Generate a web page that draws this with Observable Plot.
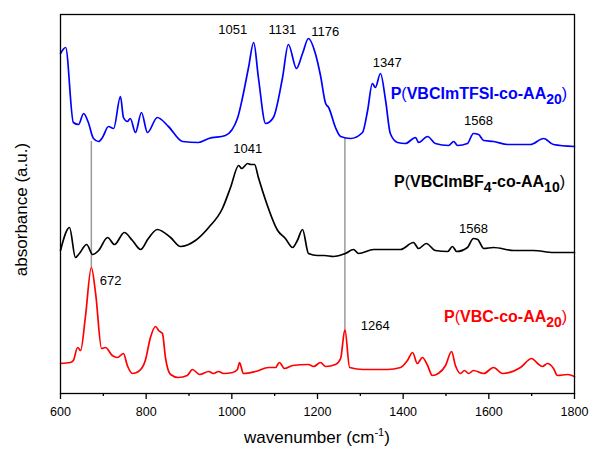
<!DOCTYPE html>
<html>
<head>
<meta charset="utf-8">
<script src="https://cdn.jsdelivr.net/npm/d3@7"></script>
<script src="https://cdn.jsdelivr.net/npm/@observablehq/plot@0.6"></script>
<style>
  body { margin: 0; background: #fff; }
  svg { font-family: "Liberation Sans", Arial, sans-serif; }
</style>
</head>
<body>
<div id="chart"></div>
<script>
// Spectra: [wavenumber (cm-1), absorbance (a.u., offset)]
const tfsi = [
  [600,340],[612,346],[630,271],[642,269],[654,280],[665,271],[677,255],[689,252],[698,256],
  [712,267],[724,265],[740,297],[747,276],[756,272],[763,275],[775,261],[789,281],[803,261],
  [826,276],[852,267],[885,252],[922,251],[946,255],[985,258],[1013,275],[1025,296],[1039,326],
  [1051,351],[1062,316],[1079,270],[1097,276],[1118,315],[1132,349],[1151,325],[1165,340],
  [1179,355],[1195,340],[1207,318],[1219,290],[1226,286],[1242,266],[1254,257],[1277,255],
  [1305,261],[1317,283],[1328,310],[1335,306],[1347,320],[1359,293],[1370,260],[1387,251],
  [1405,250],[1429,256],[1436,251],[1457,257],[1475,250],[1506,248],[1518,252],[1527,248],
  [1550,250],[1564,260],[1576,259],[1588,253],[1611,252],[1644,249],[1697,249],[1728,255],
  [1751,249],[1800,247]
];
const bf4 = [
  [600,143],[621,166],[635,136],[644,140],[661,149],[675,139],[689,143],[710,156],[726,149],
  [749,161],[768,153],[787,144],[805,155],[826,164],[857,156],[880,147],[915,153],[946,166],
  [978,185],[997,206],[1016,228],[1023,225],[1037,230],[1044,229],[1053,229],[1062,216],
  [1079,193],[1107,163],[1125,155],[1142,146],[1153,153],[1165,164],[1179,140],[1200,138],
  [1216,138],[1237,137],[1265,140],[1284,144],[1296,140],[1331,144],[1363,144],[1394,144],
  [1424,151],[1436,145],[1454,150],[1475,143],[1504,142],[1515,147],[1525,142],[1550,146],
  [1564,155],[1574,154],[1588,145],[1611,146],[1658,143],[1704,143],[1751,141],[1800,141]
];
const vbc = [
  [600,30],[623,31],[630,33],[640,46],[647,43],[658,76],[672,126],[682,100],[696,45],[705,46],
  [721,38],[733,36],[747,40],[756,28],[768,20],[782,22],[798,33],[810,56],[822,67],[829,63],
  [838,60],[845,36],[857,19],[875,16],[896,18],[908,24],[925,19],[946,22],[957,20],[969,22],
  [981,20],[1002,21],[1013,24],[1018,31],[1027,20],[1055,22],[1086,26],[1102,26],[1111,31],
  [1123,25],[1142,28],[1179,29],[1191,27],[1207,31],[1219,27],[1242,29],[1254,35],[1264,64],
  [1275,26],[1307,24],[1363,24],[1394,26],[1410,33],[1422,41],[1433,30],[1445,36],[1457,28],
  [1468,18],[1482,20],[1499,28],[1513,42],[1522,28],[1534,20],[1543,23],[1553,20],[1564,23],
  [1588,20],[1611,26],[1632,20],[1674,26],[1700,35],[1714,30],[1725,27],[1737,30],[1751,25],
  [1760,18],[1784,19],[1800,17]
];
// guide lines: wavenumber, from, to
const guides = [[672,126,252],[1264,64,255]];
// peak annotations: text, wavenumber, absorbance
const peaks = [
  ["1051",1002,364],["1131",1118,364],["1176",1218,362],["1347",1363,331],["1568",1576,273],
  ["1041",1037,245],["1568",1564,165],["672",717,113],["1264",1335,68]
];
// series labels: prefix, main, subscript, colour, anchor wavenumber, absorbance
const seriesLabels = [
  ["VBCImTFSI-co-AA", "20", "", "#0000ff", 1784, 298],
  ["VBCImBF", "4", "-co-AA", "#000000", 1779, 210],
  ["VBC-co-AA", "20", "", "#ff0000", 1784, 75]
];
const majorTicks = [600,800,1000,1200,1400,1600,1800];
const minorTicks = [700,900,1100,1300,1500,1700];

const plot = Plot.plot({
  width: 591, height: 454,
  marginLeft: 60, marginRight: 17, marginTop: 14, marginBottom: 61,
  x: {domain: [600, 1800]},
  y: {domain: [0, 379], axis: null},
  style: {fontFamily: "'Liberation Sans', Arial, sans-serif", color: "#000", background: "#fff"},
  marks: [
    Plot.axisX({ticks: minorTicks, tickSize: 3, tickFormat: () => "", label: null, strokeWidth: 1.3}),
    Plot.axisX({ticks: majorTicks, tickSize: 6, tickPadding: 8, label: null, fontSize: 12.5, tickFormat: d => String(d), strokeWidth: 1.3}),
    Plot.ruleX(guides, {x: d => d[0], y1: d => d[1], y2: d => d[2], stroke: "#9a9a9a", strokeWidth: 1.5}),
    Plot.line(tfsi, {x: d => d[0], y: d => d[1], stroke: "#0000ff", strokeWidth: 1.7, curve: "monotone-x"}),
    Plot.line(bf4, {x: d => d[0], y: d => d[1], stroke: "#000000", strokeWidth: 1.7, curve: "monotone-x"}),
    Plot.line(vbc, {x: d => d[0], y: d => d[1], stroke: "#ff0000", strokeWidth: 1.7, curve: "monotone-x"}),
    Plot.text(peaks, {x: d => d[1], y: d => d[2], text: d => d[0], fontSize: 13, fill: "#000"}),
    Plot.frame({stroke: "#000", strokeWidth: 1.3})
  ]
});

const sx = plot.scale("x"), sy = plot.scale("y");
const svg = d3.select(plot);

// series labels with subscripts
for (const [main, sub, tail, color, xv, yv] of seriesLabels) {
  const t = svg.append("text")
    .attr("x", sx.apply(xv)).attr("y", sy.apply(yv))
    .attr("text-anchor", "end").attr("dominant-baseline", "middle")
    .attr("fill", color).attr("font-size", 16).attr("font-weight", "bold");
  t.append("tspan").text("P");
  t.append("tspan").attr("font-weight", "normal").text("(");
  t.append("tspan").text(main);
  t.append("tspan").attr("dy", 5).attr("font-size", 14).text(sub);
  if (tail) {
    t.append("tspan").attr("dy", -5).text(tail);
    t.append("tspan").attr("dy", 5).attr("font-size", 14).text("10");
    t.append("tspan").attr("dy", -5).attr("font-weight", "normal").text(")");
  } else {
    t.append("tspan").attr("dy", -5).attr("font-weight", "normal").text(")");
  }
}

// axis titles
const [x0, x1] = sx.range;
const [y0, y1] = sy.range;
const xl = svg.append("text")
  .attr("x", (x0 + x1) / 2).attr("y", 443)
  .attr("text-anchor", "middle").attr("font-size", 17).attr("fill", "#000");
xl.append("tspan").text("wavenumber (cm");
xl.append("tspan").attr("dy", -7).attr("font-size", 11).text("-1");
xl.append("tspan").attr("dy", 7).text(")");

svg.append("text")
  .attr("transform", `translate(27,${(y0 + y1) / 2 + 6}) rotate(-90)`)
  .attr("text-anchor", "middle").attr("font-size", 17).attr("fill", "#000")
  .text("absorbance (a.u.)");

document.getElementById("chart").appendChild(plot);
</script>
</body>
</html>
